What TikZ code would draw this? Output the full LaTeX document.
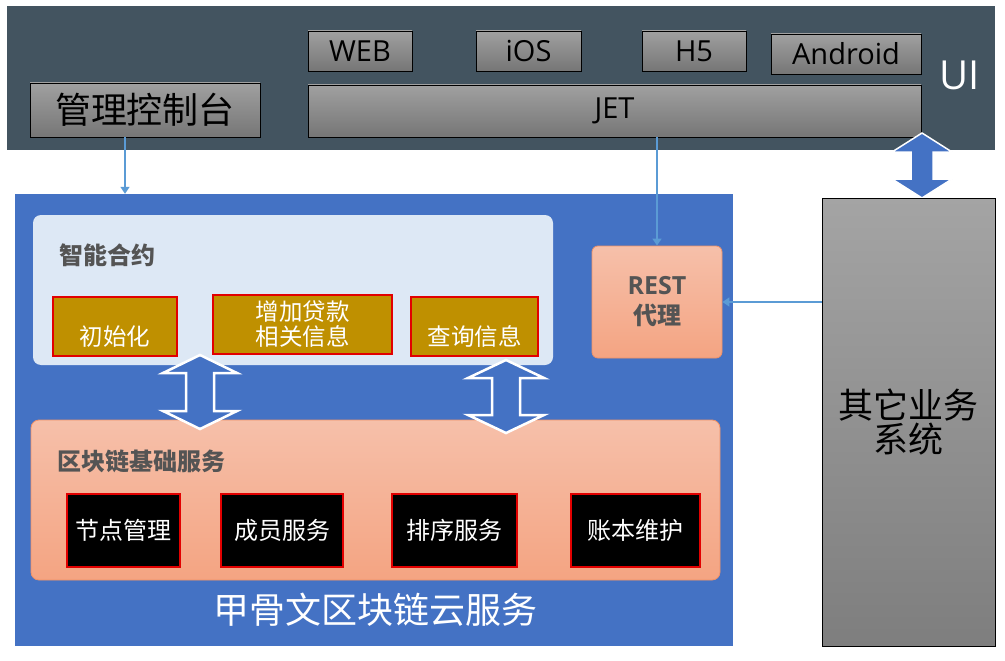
\documentclass[tikz,border=0pt]{standalone}
\usepackage{fontspec}
\setmainfont{Open Sans}
\newfontfamily\cjk{Noto Sans CJK SC}
\usetikzlibrary{arrows.meta}

\begin{document}
\begin{tikzpicture}[x=1pt,y=-1pt,
  uibox/.style={draw=black,line width=0.8pt,top color=boxTop,bottom color=boxBot,
    inner sep=0pt,text=black,font=\fontsize{29}{34}\selectfont},
  goldbox/.style={draw=redLine,line width=1.5pt,fill=goldColor,inner sep=0pt,
    minimum height=59pt,align=center,text=white,font=\cjk\fontsize{23.5}{25}\selectfont},
  blackbox/.style={draw=redLine,line width=1.5pt,fill=black,inner sep=0pt,
    minimum height=73pt,text=white,font=\cjk\fontsize{24}{26}\selectfont},
  panel/.style={rounded corners=8pt,inner sep=0pt},
  peach/.style={draw=peachLine,line width=0.8pt,top color=peachTop,bottom color=peachBot},
  title/.style={anchor=west,inner sep=0pt,text=textGray,font=\cjk\bfseries\fontsize{24}{26}\selectfont},
  conn/.style={draw=connColor,line width=1.5pt,-{Triangle[width=9pt,length=7pt]}},
  hollow/.style={fill=cloudBlue,draw=white,line width=2.5pt,line join=miter}]
\definecolor{bandColor}{RGB}{67,84,96}
\definecolor{boxTop}{RGB}{160,160,160}
\definecolor{boxBot}{RGB}{118,118,118}
\definecolor{cloudBlue}{RGB}{68,114,196}
\definecolor{panelColor}{RGB}{221,232,245}
\definecolor{goldColor}{RGB}{191,144,0}
\definecolor{redLine}{RGB}{226,0,0}
\definecolor{peachTop}{RGB}{246,192,170}
\definecolor{peachBot}{RGB}{244,164,130}
\definecolor{peachLine}{RGB}{240,146,104}
\definecolor{textGray}{RGB}{84,84,84}
\definecolor{connColor}{RGB}{91,155,213}
\definecolor{otherTop}{RGB}{164,164,164}
\definecolor{otherBot}{RGB}{126,126,126}
\path[use as bounding box,fill=white] (0,0) rectangle (1005,661);

% UI layer
\path[fill=bandColor] (7,6) rectangle (995,150);
\node[uibox,minimum width=104pt,minimum height=40pt] (web) at (360,51) {WEB};
\node[uibox,minimum width=105pt,minimum height=40pt] (ios) at (528.5,51) {iOS};
\node[uibox,minimum width=104pt,minimum height=40pt] (h5) at (694,51) {H5};
\node[uibox,minimum width=150pt,minimum height=40pt] (android) at (846,54) {Android};
\node[uibox,minimum width=613pt,minimum height=52pt] (jet) at (614.5,111) {JET};
\node[uibox,minimum width=230pt,minimum height=54pt,font=\cjk\fontsize{36}{40}\selectfont] (console) at (145,110) {管理控制台};
\node[text=white,inner sep=0pt,font=\fontsize{40}{44}\selectfont] (ui) at (960,75) {UI};

% cloud service
\node[fill=cloudBlue,minimum width=718pt,minimum height=452pt,inner sep=0pt] (cloud) at (374,420) {};
\node[text=white,inner sep=0pt,font=\cjk\fontsize{36}{40}\selectfont] (cloudlabel) at (375,610) {甲骨文区块链云服务};

% smart contract
\node[panel,fill=panelColor,minimum width=520pt,minimum height=150pt] (contract) at (293,290) {};
\node[title] (contracttitle) at (59,255) {智能合约};
\node[goldbox,minimum width=124pt] (init) at (115,326.5) {\strut\\[-6pt]初始化};
\node[goldbox,minimum width=179pt] (addloan) at (302.5,324.5) {增加贷款\\相关信息};
\node[goldbox,minimum width=127pt] (query) at (474.5,326.5) {\strut\\[-6pt]查询信息};

% blockchain base services
\node[panel,peach,minimum width=689pt,minimum height=160pt] (base) at (375.5,500) {};
\node[title] (basetitle) at (57,461) {区块链基础服务};
\node[blackbox,minimum width=113pt] (nodemgr) at (123.5,530.5) {节点管理};
\node[blackbox,minimum width=122pt] (member) at (282,530.5) {成员服务};
\node[blackbox,minimum width=125pt] (order) at (454.5,530.5) {排序服务};
\node[blackbox,minimum width=129pt] (ledger) at (635.5,530.5) {账本维护};

% REST proxy
\node[panel,peach,rounded corners=6pt,minimum width=130pt,minimum height=112pt,align=center,
  text=textGray,font=\bfseries\fontsize{25}{30}\selectfont] (rest) at (657,302) {REST\\{\cjk\fontsize{24}{30}\selectfont 代理}};

% hollow double arrows
\path[hollow] (200,355) -- (237,373) -- (214,373) -- (214,411) -- (237,411) -- (200,429) --
  (163,411) -- (186,411) -- (186,373) -- (163,373) -- cycle;
\path[hollow] (506,360) -- (544,378) -- (520,378) -- (520,415) -- (544,415) -- (506,433) --
  (468,415) -- (492,415) -- (492,378) -- (468,378) -- cycle;
\path[hollow,line width=1.5pt] (922,133) -- (952,152) -- (933,152) -- (933,179) -- (952,179) -- (922,198) --
  (892,179) -- (911,179) -- (911,152) -- (892,152) -- cycle;

% other business systems
\node[draw=black,line width=0.8pt,top color=otherTop,bottom color=otherBot,minimum width=173pt,
  minimum height=448pt,inner sep=0pt,align=center,font=\cjk\fontsize{35}{32}\selectfont] (other) at (908.5,422) {其它业务\\系统};

% connectors
\draw[conn] ([xshift=-20pt]console.south) -- ([xshift=-20pt]console.south |- cloud.north);
\draw[conn] (rest.north |- jet.south) -- (rest.north);
\draw[conn] (rest.east -| other.west) -- (rest.east);
\end{tikzpicture}
\end{document}
